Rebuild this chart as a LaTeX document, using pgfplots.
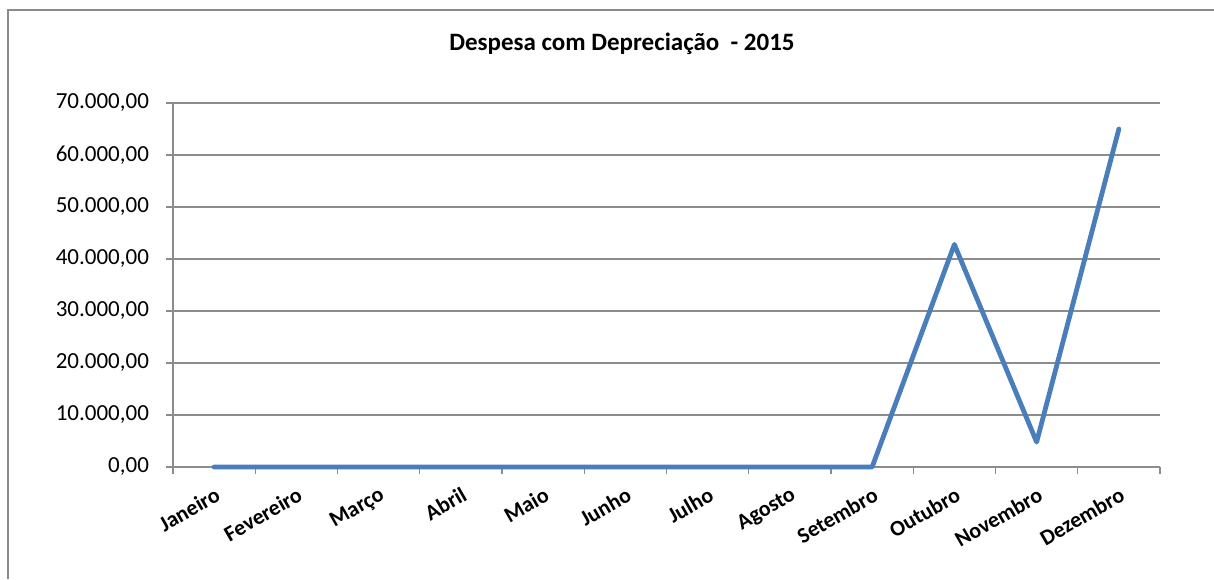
\documentclass[border=0pt]{standalone}
\usepackage{fontspec}
\setmainfont{Carlito}
\usepackage{pgfplots}
\pgfplotsset{compat=1.18}
\definecolor{serie}{HTML}{4A7EBB}
\definecolor{gridc}{HTML}{8C8C8C}
\definecolor{framec}{HTML}{8A8A8A}
\begin{document}
\begin{tikzpicture}[x=1pt,y=1pt]
\path[use as bounding box] (0,0) rectangle (607,289.5);
\draw[framec, line width=1.3pt] (4,0) -- (4,284.5) -- (607,284.5);
\node[font=\fontsize{12.5}{14}\selectfont\bfseries] at (311,267.5) {Despesa com Depreciação\ \ - 2015};
\begin{axis}[
  at={(86.5pt,56pt)}, anchor=south west,
  scale only axis, width=493.5pt, height=182pt,
  xmin=0.5, xmax=12.5, ymin=0, ymax=70000,
  axis x line*=bottom, axis y line*=left,
  axis line style={-, gridc, line width=0.6pt},
  ytick={0,10000,20000,30000,40000,50000,60000,70000},
  yticklabels={{0,00},{10.000,00},{20.000,00},{30.000,00},{40.000,00},{50.000,00},{60.000,00},{70.000,00}},
  scaled y ticks=false,
  ymajorgrids, major grid style={gridc, line width=0.6pt},
  xtick={0.5,1.5,...,12.5},
  x tick label as interval,
  xticklabels={Janeiro,Fevereiro,Março,Abril,Maio,Junho,Julho,Agosto,Setembro,Outubro,Novembro,Dezembro},
  tick align=outside, major tick length=3.5pt,
  tick style={gridc, line width=0.6pt},
  xticklabel style={rotate=30, anchor=north east, font=\fontsize{11}{13}\selectfont\bfseries, inner sep=1pt, xshift=-2pt, yshift=-4pt},
  yticklabel style={font=\fontsize{11.5}{13}\selectfont, xshift=-5pt},
  clip=false,
]
\addplot[serie, line width=2.4pt, line join=round, line cap=round] coordinates {
(1,0) (2,0) (3,0) (4,0) (5,0) (6,0) (7,0) (8,0) (9,0) (10,42800) (11,4800) (12,65000)
};
\end{axis}
\end{tikzpicture}
\end{document}
